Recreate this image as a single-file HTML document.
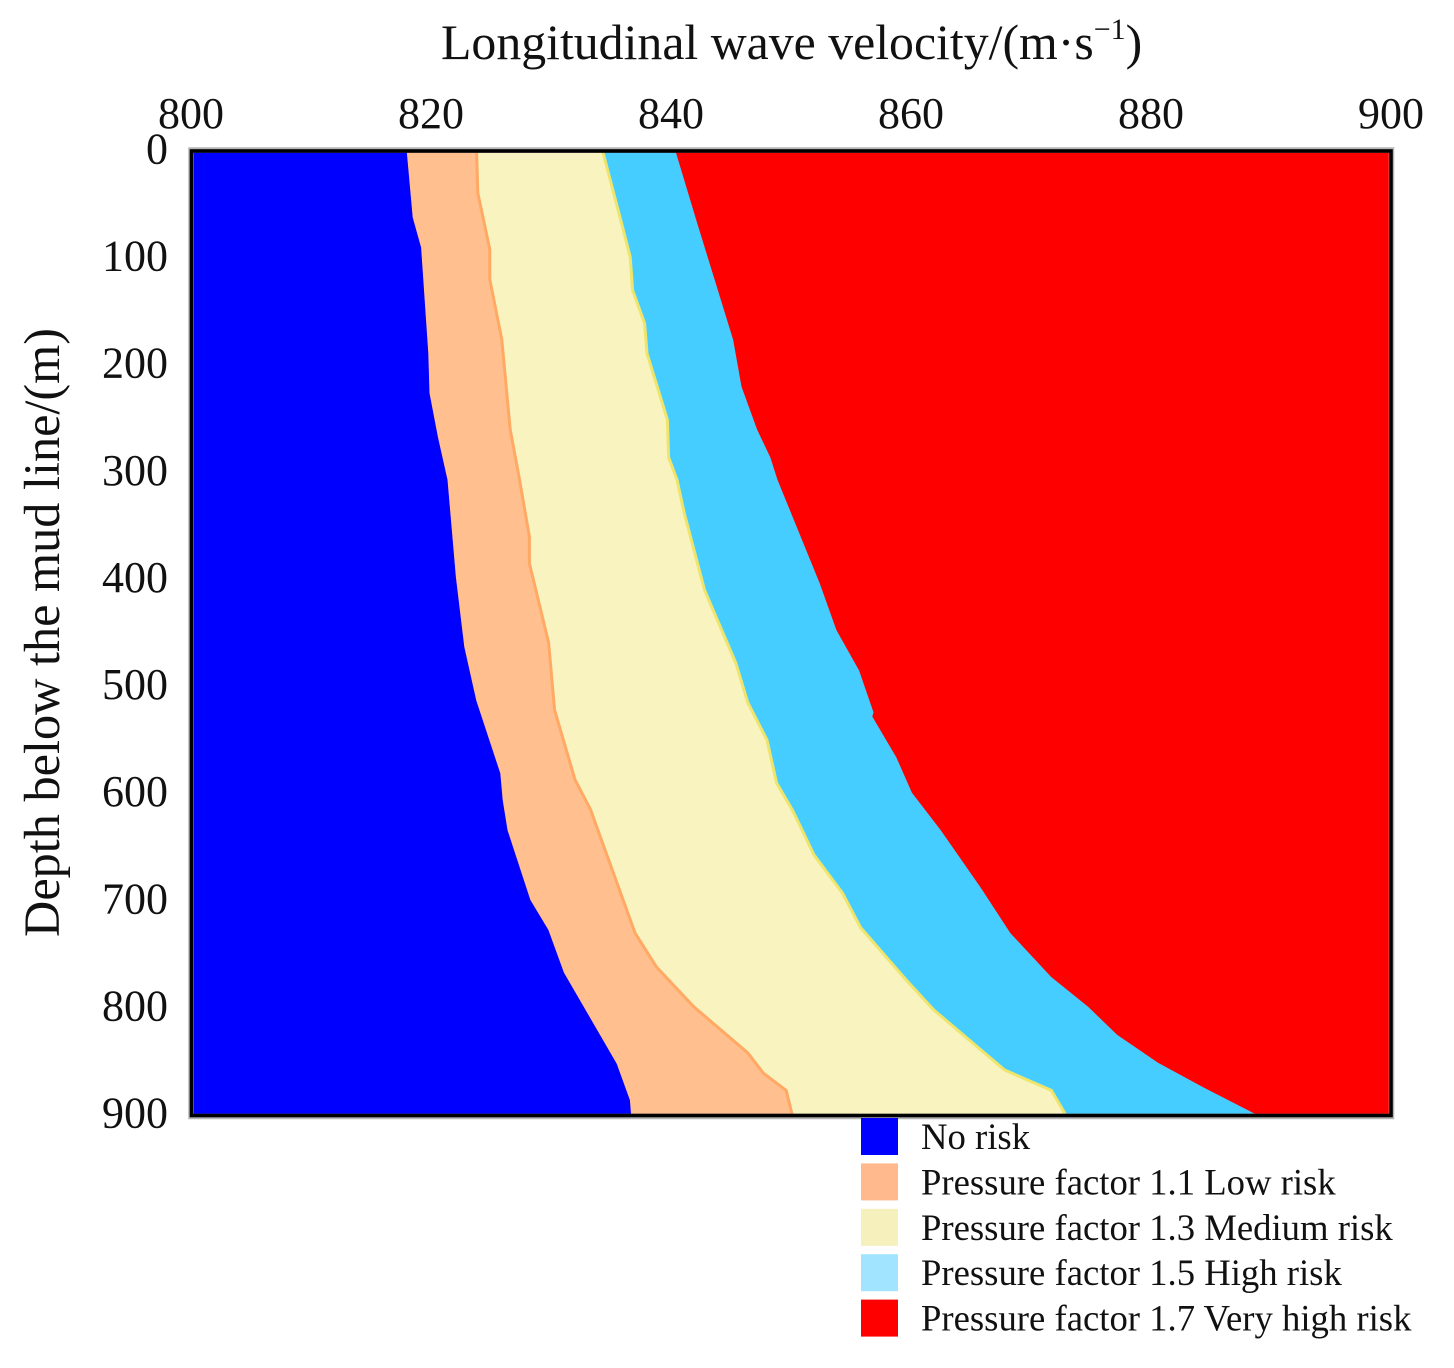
<!DOCTYPE html>
<html>
<head>
<meta charset="utf-8">
<title>Longitudinal wave velocity risk chart</title>
<style>
html,body{margin:0;padding:0;background:#fff;width:1454px;height:1368px;overflow:hidden}
svg{display:block}
text{font-family:"Liberation Serif",serif;fill:#111}
</style>
</head>
<body>
<svg id="chart" xmlns="http://www.w3.org/2000/svg" width="1454" height="1368" viewBox="0 0 1454 1368">
<rect width="1454" height="1368" fill="#fff"/>
<g id="regions"></g>
<g id="lines"></g>
<rect x="191" y="150" width="1200.5" height="966.5" fill="none" stroke="#b5b5b5" stroke-width="5.5"/>
<rect x="191.5" y="151" width="1199.5" height="964.5" fill="none" stroke="#000" stroke-width="3.6"/>
<g id="xticks"></g>
<g id="yticks"></g>
<text x="441" y="59" font-size="49.8">Longitudinal wave velocity/(m·s<tspan font-size="30" dy="-20">−1</tspan><tspan dy="20">)</tspan></text>
<text transform="translate(59,937) rotate(-90)" font-size="50.3">Depth below the mud line/(m)</text>
<g id="legend"></g>
</svg>
<script>
const xTickValues = [800, 820, 840, 860, 880, 900];
const yTickValues = [0, 100, 200, 300, 400, 500, 600, 700, 800, 900];

const noRiskVelocity = [818, 818.5, 819.2, 819.8, 819.9, 820.6, 821.4, 822.1, 822.8, 823.8, 825.8, 826, 826.4, 828.3, 829.8, 831.1, 835.5, 836.6, 836.7];
const noRiskDepth = [0, 62, 90, 189, 226, 267, 307, 398, 463, 513, 581, 606, 634, 699, 727, 767, 852, 886, 900];

const lowRiskVelocity = [823.8, 823.9, 824.9, 824.9, 825.9, 826.6, 827.3, 828.2, 828.2, 829.8, 830.3, 832, 833.3, 834.1, 837, 838.8, 841.9, 846.4, 847.7, 849.6, 850.1];
const lowRiskDepth = [0, 39, 92, 120, 176, 260, 302, 360, 385, 459, 522, 587, 615, 640, 730, 762, 799, 842, 861, 877, 900];

const mediumRiskVelocity = [834.3, 835.8, 836.6, 836.8, 837.8, 838, 839.7, 839.8, 840.5, 841.1, 842.8, 845.4, 846.4, 848, 848.8, 850.1, 850.8, 851.9, 854.3, 855.8, 859.6, 861.9, 867.8, 871.7, 872.9];
const mediumRiskDepth = [0, 64, 99, 130, 161, 189, 251, 286, 307, 338, 410, 478, 515, 550, 590, 615, 631, 657, 693, 725, 774, 802, 858, 877, 900];

const highRiskVelocity = [840.4, 842.2, 845.2, 845.9, 847.2, 848.3, 848.9, 852.4, 853.8, 855.7, 856.9, 856.8, 858.8, 860.1, 862.5, 865.8, 868.3, 871.7, 874.8, 877.2, 880.6, 884.4, 888.9];
const highRiskDepth = [0, 67, 176, 220, 260, 286, 307, 403, 447, 485, 524, 528, 566, 599, 634, 687, 730, 771, 799, 825, 851, 874, 900];

const legendLabels = ["No risk", "Pressure factor 1.1 Low risk", "Pressure factor 1.3 Medium risk", "Pressure factor 1.5 High risk", "Pressure factor 1.7 Very high risk"];

const NS = "http://www.w3.org/2000/svg";
const xScale = v => 191 + (v - 800) * 12;
const yScale = d => 151 + d * (964 / 900);
const pathPoints = (vs, ds) => vs.map((v, i) => xScale(v).toFixed(1) + "," + yScale(ds[i]).toFixed(1));

function make(tag, attrs, parent) {
  const el = document.createElementNS(NS, tag);
  for (const k in attrs) el.setAttribute(k, attrs[k]);
  parent.appendChild(el);
  return el;
}

const regionsG = document.getElementById("regions");
const linesG = document.getElementById("lines");
const xG = document.getElementById("xticks");
const yG = document.getElementById("yticks");
const legendG = document.getElementById("legend");

const leftEdgeV = [800, 800];
const rightEdgeV = [900, 900];
const edgeD = [0, 900];

const bounds = [
  [leftEdgeV, edgeD],
  [noRiskVelocity, noRiskDepth],
  [lowRiskVelocity, lowRiskDepth],
  [mediumRiskVelocity, mediumRiskDepth],
  [highRiskVelocity, highRiskDepth],
  [rightEdgeV, edgeD]
];
const regionFills = ["#0000ff", "#ffbf8f", "#f8f3bf", "#46cdff", "#ff0000"];
const regionNames = ["region-no-risk", "region-low-risk", "region-medium-risk", "region-high-risk", "region-very-high-risk"];

regionFills.forEach((fill, i) => {
  const left = pathPoints(bounds[i][0], bounds[i][1]);
  const right = pathPoints(bounds[i + 1][0], bounds[i + 1][1]).reverse();
  const el = make("polygon", { points: left.concat(right).join(" "), fill: fill, stroke: fill, "stroke-width": 0.6 }, regionsG);
  
  
});

const lowLine = make("polyline", { points: pathPoints(lowRiskVelocity, lowRiskDepth).join(" "), fill: "none", stroke: "#ffa964", "stroke-width": 3, "stroke-linejoin": "round" }, linesG);



const medLine = make("polyline", { points: pathPoints(mediumRiskVelocity, mediumRiskDepth).join(" "), fill: "none", stroke: "#efe56b", "stroke-width": 3, "stroke-linejoin": "round" }, linesG);



xTickValues.forEach(v => {
  const t = make("text", { x: xScale(v), y: 128, "font-size": 44, "text-anchor": "middle" }, xG);
  t.textContent = v;
  
  
});

yTickValues.forEach(d => {
  const t = make("text", { x: 168, y: yScale(d) + 12.5, "font-size": 44, "text-anchor": "end" }, yG);
  t.textContent = d;
  
  
});

const legendFills = ["#0000ff", "#ffb98c", "#f5f0bc", "#a0e4ff", "#ff0000"];
const legendTop = 1118;
const legendStep = 45.4;
legendLabels.forEach((label, i) => {
  const top = legendTop + i * legendStep;
  const s = make("rect", { x: 861, y: top, width: 37, height: 37, fill: legendFills[i] }, legendG);
  
  
  const t = make("text", { x: 921, y: top + 31, "font-size": 36.7 }, legendG);
  t.textContent = label;
  
  
});
</script>
</body>
</html>
